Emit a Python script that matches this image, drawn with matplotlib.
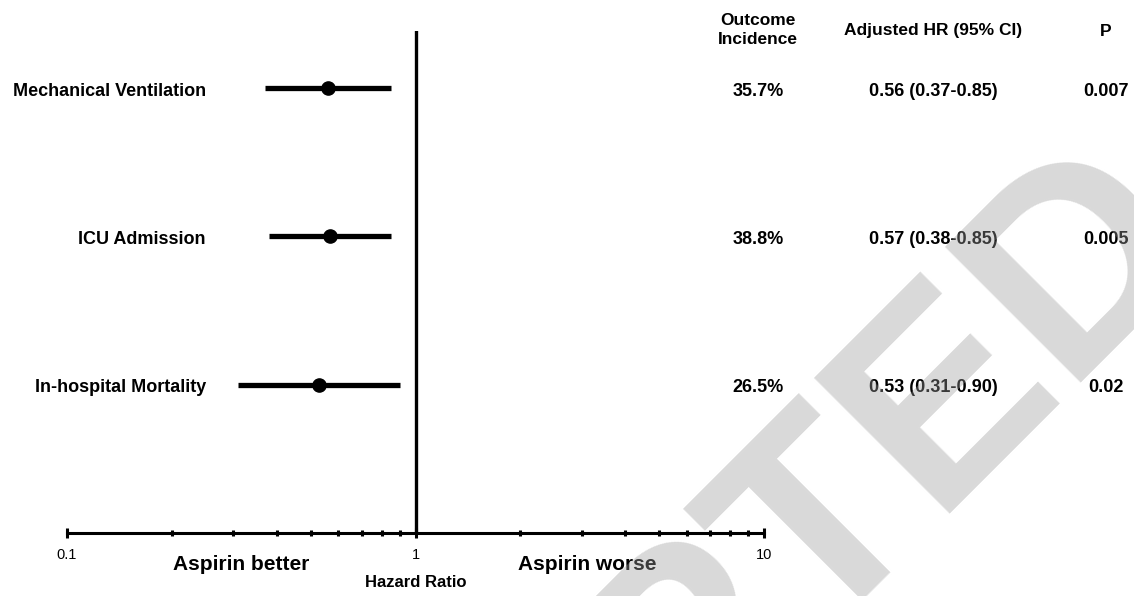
#!/usr/bin/env python3
"""
Forest plot: adjusted hazard ratios for aspirin use.
"""

import matplotlib
matplotlib.use("Agg")
import matplotlib.pyplot as plt
from matplotlib.ticker import FixedLocator, NullFormatter
from matplotlib.transforms import blended_transform_factory

plt.rcParams['font.family'] = ['Liberation Sans', 'DejaVu Sans']

# Data
outcomes = ['Mechanical Ventilation', 'ICU Admission', 'In-hospital Mortality']
hr = [0.56, 0.57, 0.53]
ci_low = [0.37, 0.38, 0.31]
ci_high = [0.85, 0.85, 0.90]
incidence = ['35.7%', '38.8%', '26.5%']
p_values = ['0.007', '0.005', '0.02']
row_y = [3, 2, 1]

major_ticks = [0.1, 1, 10]
major_labels = ['0.1', '1', '10']
minor_ticks = [0.2, 0.3, 0.4, 0.5, 0.6, 0.7, 0.8, 0.9,
               2, 3, 4, 5, 6, 7, 8, 9]

W, H = 1134, 596
fig = plt.figure(figsize=(W / 100, H / 100), dpi=100)
ax = fig.add_axes([67 / W, 63 / H, (764 - 67) / W, 3.385 * 148.3 / H])

ax.set_xscale('log')
ax.set_xlim(0.1, 10)
ax.set_ylim(0, 3.385)

# Confidence intervals and point estimates
ax.hlines(row_y, ci_low, ci_high, colors='black', linewidth=3.8, zorder=3)
ax.plot(hr, row_y, 'o', color='black', markersize=9.5, zorder=4)

# Line of no effect
ax.axvline(1, color='black', linewidth=2.4, zorder=2)

# Axis styling
for side in ['top', 'right', 'left']:
    ax.spines[side].set_visible(False)
ax.spines['bottom'].set_linewidth(2.2)
ax.set_yticks([])
ax.xaxis.set_major_locator(FixedLocator(major_ticks))
ax.xaxis.set_minor_locator(FixedLocator(minor_ticks))
ax.xaxis.set_minor_formatter(NullFormatter())
ax.set_xticklabels(major_labels)
ax.tick_params(axis='x', which='major', direction='inout', length=7.5,
               width=2.2, pad=7, labelsize=10.5)
ax.tick_params(axis='x', which='minor', direction='inout', length=4.5,
               width=2.2)

# Row labels and table columns
trans = blended_transform_factory(fig.transFigure, ax.transData)
for y, name, inc, h, lo, hi, p in zip(row_y, outcomes, incidence, hr,
                                      ci_low, ci_high, p_values):
    yt = y - 0.02
    ax.text(206 / W, yt, name, transform=trans, ha='right', va='center',
            fontsize=13, fontweight='bold')
    ax.text(758 / W, yt, inc, transform=trans, ha='center', va='center',
            fontsize=13, fontweight='bold')
    ax.text(933 / W, yt, f'{h:.2f} ({lo:.2f}-{hi:.2f})', transform=trans,
            ha='center', va='center', fontsize=13, fontweight='bold')
    ax.text(1106 / W, yt, p, transform=trans, ha='center', va='center',
            fontsize=13, fontweight='bold')

# Column headers
fig.text(758 / W, 1 - 30 / H, 'Outcome\nIncidence', ha='center', va='center',
         fontsize=12.5, fontweight='bold', linespacing=1.3)
fig.text(933 / W, 1 - 31 / H, 'Adjusted HR (95% CI)', ha='center',
         va='center', fontsize=12.5, fontweight='bold')
fig.text(1106 / W, 1 - 31 / H, 'P', ha='center', va='center',
         fontsize=12.5, fontweight='bold')

# Direction labels and axis title
fig.text(241 / W, 1 - 570 / H, 'Aspirin better', ha='center', va='baseline',
         fontsize=15, fontweight='bold')
fig.text(587 / W, 1 - 570 / H, 'Aspirin worse', ha='center', va='baseline',
         fontsize=15, fontweight='bold')
fig.text(416 / W, 1 - 587 / H, 'Hazard Ratio', ha='center', va='baseline',
         fontsize=12, fontweight='bold')

# Watermark
fig.text(127.5 / W, (H - 1328.5) / H, 'ACCEPTED', rotation=45,
         rotation_mode='anchor', ha='left', va='baseline', fontsize=200,
         fontweight='bold', color=(0.61, 0.61, 0.61), alpha=0.38, zorder=10)

fig.savefig('out.png', dpi=100)
